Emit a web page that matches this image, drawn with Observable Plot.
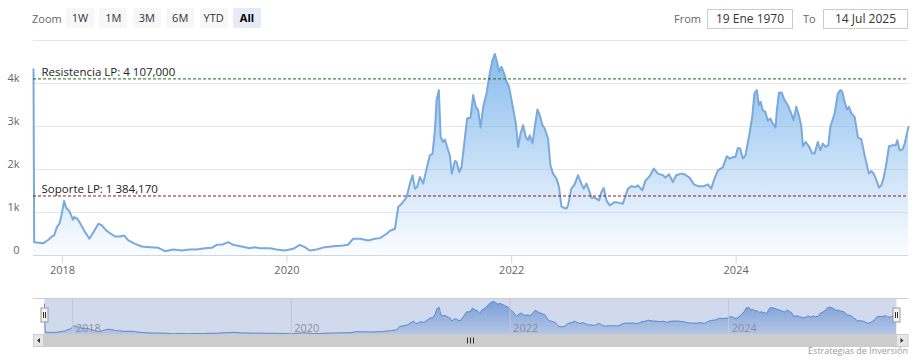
<!DOCTYPE html>
<html>
<head>
<meta charset="utf-8">
<script src="https://cdn.jsdelivr.net/npm/d3@7"></script>
<script src="https://cdn.jsdelivr.net/npm/@observablehq/plot@0.6"></script>
<style>
  body { margin: 0; background: #fff; font-family: "Open Sans", sans-serif; }
  #wrap { position: relative; width: 918px; height: 363px; overflow: hidden; }
  .abs { position: absolute; }
  .zl { left: 32px; top: 9px; font-size: 11px; color: #666; line-height: 20px; }
  .btn { top: 8px; width: 28px; height: 20px; line-height: 20px; text-align: center; font-size: 11px; color: #333; background: #f7f7f7; border-radius: 2px; }
  .btn.sel { background: #e6ebf5; font-weight: bold; color: #000; }
  .lbl { top: 8px; font-size: 11px; color: #666; line-height: 21px; }
  .inp { top: 9px; height: 18px; border: 1px solid #cccccc; font-size: 12px; color: #333; text-align: center; line-height: 18px; box-sizing: content-box; }
  .credit { right: 10px; top: 344px; font-size: 9px; color: #999; }
  #main, #nav { position: absolute; left: 0; }
  #main { top: 32px; }
  #nav { top: 290px; }
</style>
</head>
<body>
<div id="wrap">
  <div id="header"></div>
  <div id="main"></div>
  <div id="nav"></div>
  <div id="scroll"></div>
  <div class="abs credit" id="credit"></div>
</div>
<script>
// ---- Data ----
const yearsDec = [
  2017.742, 2017.748, 2017.831, 2017.875, 2017.906, 2017.926, 2017.950, 2017.973, 2017.988,
  2018.015, 2018.033, 2018.062, 2018.093, 2018.104, 2018.133, 2018.157, 2018.202, 2018.240, 2018.276, 2018.320, 2018.351, 2018.389, 2018.431, 2018.469, 2018.513, 2018.549, 2018.587, 2018.647, 2018.706, 2018.780, 2018.854, 2018.914, 2018.988,
  2019.062, 2019.136, 2019.196, 2019.270, 2019.329, 2019.374, 2019.427, 2019.477, 2019.521, 2019.596, 2019.670, 2019.714, 2019.759, 2019.848, 2019.907, 2019.981,
  2020.055, 2020.115, 2020.159, 2020.204, 2020.263, 2020.337, 2020.411, 2020.500, 2020.545, 2020.589, 2020.649, 2020.722, 2020.782, 2020.827, 2020.886, 2020.916, 2020.960, 2020.989,
  2021.020, 2021.064, 2021.093, 2021.117, 2021.138, 2021.158, 2021.182, 2021.212, 2021.242, 2021.271, 2021.295, 2021.316, 2021.331, 2021.351, 2021.367, 2021.390, 2021.405, 2021.434, 2021.449, 2021.467, 2021.494, 2021.509, 2021.532, 2021.553, 2021.574, 2021.603, 2021.634, 2021.657, 2021.681, 2021.701, 2021.723, 2021.746, 2021.776, 2021.805, 2021.829, 2021.850, 2021.865, 2021.888, 2021.909, 2021.932, 2021.954, 2021.977,
  2022.007, 2022.037, 2022.057, 2022.079, 2022.102, 2022.126, 2022.146, 2022.161, 2022.185, 2022.206, 2022.230, 2022.250, 2022.274, 2022.294, 2022.324, 2022.345, 2022.368, 2022.399, 2022.422, 2022.443, 2022.464, 2022.488, 2022.502, 2022.532, 2022.561, 2022.591, 2022.621, 2022.641, 2022.666, 2022.695, 2022.710, 2022.740, 2022.778, 2022.800, 2022.820, 2022.844, 2022.873, 2022.918, 2022.962, 2022.991,
  2023.036, 2023.066, 2023.104, 2023.125, 2023.164, 2023.193, 2023.229, 2023.267, 2023.303, 2023.347, 2023.371, 2023.401, 2023.436, 2023.466, 2023.511, 2023.540, 2023.585, 2023.623, 2023.667, 2023.709, 2023.747, 2023.778, 2023.807, 2023.837, 2023.881, 2023.917, 2023.941, 2023.977, 2023.994,
  2024.015, 2024.036, 2024.059, 2024.083, 2024.119, 2024.143, 2024.163, 2024.184, 2024.202, 2024.217, 2024.237, 2024.259, 2024.281, 2024.303, 2024.326, 2024.350, 2024.362, 2024.380, 2024.404, 2024.430, 2024.459, 2024.490, 2024.510, 2024.534, 2024.557, 2024.578, 2024.593, 2024.617, 2024.646, 2024.677, 2024.697, 2024.726, 2024.748, 2024.771, 2024.795, 2024.819, 2024.837, 2024.875, 2024.904, 2024.926, 2024.943, 2024.964, 2024.985,
  2025.002, 2025.024, 2025.053, 2025.083, 2025.113, 2025.142, 2025.180, 2025.202, 2025.222, 2025.246, 2025.270, 2025.291, 2025.312, 2025.336, 2025.359, 2025.390, 2025.419, 2025.434, 2025.454, 2025.478, 2025.499, 2025.533
];
const prices = [
  4330, 310, 287, 366, 443, 466, 660, 739, 893,
  1266, 1112, 1033, 832, 893, 855, 753, 543, 389, 543, 739, 699, 583, 506, 443, 443, 466, 350, 272, 210, 194, 179, 100, 140,
  117, 140, 140, 171, 179, 249, 256, 310, 249, 210, 171, 194, 171, 171, 140, 117,
  155, 249, 194, 117, 140, 194, 217, 233, 256, 389, 389, 350, 389, 404, 506, 575, 622, 1126,
  1205, 1359, 1671, 1865, 1555, 1592, 1825, 1671, 2021, 2331, 2371, 2914, 3613, 3846, 2758, 2641, 2696, 2448, 2331, 1904, 2198, 2175, 1942, 2058, 2524, 3186, 3210, 3730, 3457, 3380, 2976, 3457, 3769, 4236, 4546, 4685, 4546, 4273, 4390, 4236, 4040, 3923,
  3497, 3070, 2524, 2837, 3031, 2758, 2681, 2797, 2604, 2991, 3396, 3264, 3031, 2953, 2720, 2098, 1904, 1788, 1592, 1140, 1110, 1089, 1166, 1555, 1655, 1865, 1671, 1555, 1671, 1476, 1345, 1345, 1282, 1476, 1569, 1282, 1166, 1243, 1219, 1205,
  1555, 1608, 1592, 1632, 1515, 1748, 1841, 2021, 1904, 1865, 1811, 1888, 1709, 1865, 1904, 1888, 1811, 1655, 1608, 1608, 1655, 1555, 1788, 1981, 2051, 2308, 2254, 2291, 2291,
  2501, 2487, 2254, 2331, 2837, 3224, 3769, 3846, 3497, 3574, 3380, 3341, 3131, 3186, 3070, 2976, 3380, 3784, 3792, 3613, 3497, 3303, 3147, 3457, 3264, 3031, 2541, 2641, 2541, 2371, 2371, 2641, 2448, 2604, 2524, 2564, 2991, 3303, 3769, 3846, 3807, 3574, 3396,
  3457, 3303, 3224, 2743, 2704, 2331, 1904, 1965, 1904, 1764, 1578, 1632, 1811, 2137, 2541, 2564, 2564, 2681, 2448, 2464, 2604, 2991
];
const yGridTicks = [0, 1000, 2000, 3000, 4000, 5000];
const yLabelTicks = [0, 1000, 2000, 3000, 4000];
const xTickYears = [2018, 2020, 2022, 2024];
const plotLineValues = [4107, 1384.17];
const plotLineLabels = ["Resistencia LP: 4 107,000", "Soporte LP: 1 384,170"];
const plotLineColors = ["#1e6b1e", "#8b1a2a"];
const zoomButtons = ["1W", "1M", "3M", "6M", "YTD", "All"];
const selectedButton = "All";
const fromText = "19 Ene 1970";
const toText = "14 Jul 2025";
const creditText = "Estrategias de Inversión";

// ---- Build ----
function decToDate(y) {
  const yr = Math.floor(y);
  const a = Date.UTC(yr, 0, 1), b = Date.UTC(yr + 1, 0, 1);
  return new Date(a + (y - yr) * (b - a));
}
const data = yearsDec.map((y, i) => ({date: decToDate(y), value: prices[i]}));
const xDomain = d3.extent(data, d => d.date);
const xTicks = xTickYears.map(y => new Date(Date.UTC(y, 0, 1)));
const plotLines = plotLineValues.map((v, i) => ({v, label: plotLineLabels[i], color: plotLineColors[i]}));

const baseStyle = {fontFamily: "'Open Sans', sans-serif", fontSize: "11px", color: "#666", background: "transparent", overflow: "visible"};

const main = Plot.plot({
  width: 918, height: 258,
  marginTop: 8, marginBottom: 35, marginLeft: 33, marginRight: 10,
  style: baseStyle,
  x: {type: "utc", domain: xDomain},
  y: {domain: [0, 5000]},
  marks: [
    Plot.gridY(yGridTicks, {stroke: "#e6e6e6", strokeOpacity: 1}),
    Plot.areaY(data, {x: "date", y: "value", fill: "url(#areaGrad)"}),
    Plot.lineY(data, {x: "date", y: "value", stroke: "#7aaadc", strokeWidth: 2, strokeLinejoin: "round"}),
    Plot.ruleY([0], {stroke: "#ccd6eb"}),
    Plot.axisX(xTicks, {tickSize: 8, tickPadding: 3, stroke: "#ccd6eb", fill: "#666", tickFormat: "%Y"}),
    Plot.axisY(yLabelTicks, {tickSize: 0, tickPadding: 14, dy: -5, fill: "#666", tickFormat: d => d === 0 ? "0" : (d / 1000) + "k"}),
    Plot.ruleY(plotLines, {y: "v", stroke: "color", strokeDasharray: "3,2", strokeWidth: 1}),
    Plot.text(plotLines, {y: "v", text: "label", frameAnchor: "left", textAnchor: "start", lineAnchor: "bottom", dx: 8, dy: -3, fill: "#222", fontSize: 11.5})
  ]
});
{
  const svg = d3.select(main);
  const defs = svg.insert("defs", ":first-child");
  const g = defs.append("linearGradient").attr("id", "areaGrad").attr("x1", 0).attr("y1", 0).attr("x2", 0).attr("y2", 1);
  g.append("stop").attr("offset", "0%").attr("stop-color", "#7cb5ec").attr("stop-opacity", 0.9);
  g.append("stop").attr("offset", "100%").attr("stop-color", "#7cb5ec").attr("stop-opacity", 0.03);
}
document.getElementById("main").appendChild(main);

const nav = Plot.plot({
  width: 918, height: 44,
  marginTop: 8, marginBottom: 0, marginLeft: 44, marginRight: 22,
  style: baseStyle,
  x: {type: "utc", domain: xDomain, axis: null},
  y: {domain: [0, 5100], axis: null},
  marks: [
    Plot.areaY(data, {x: "date", y: "value", fill: "url(#navGrad)"}),
    Plot.lineY(data, {x: "date", y: "value", stroke: "#5b8fd6", strokeWidth: 1}),
    Plot.ruleX(xTicks, {stroke: "#e6e6e6"}),
    Plot.frame({fill: "rgba(102,133,194,0.3)", stroke: null}),
    Plot.text(xTicks, {x: d => d, text: d => String(d.getUTCFullYear()), frameAnchor: "bottom", textAnchor: "start", lineAnchor: "bottom", dx: 3, dy: -3, fill: "#8a8f99"})
  ]
});
{
  const svg = d3.select(nav);
  const defs = svg.insert("defs", ":first-child");
  const g = defs.append("linearGradient").attr("id", "navGrad").attr("x1", 0).attr("y1", 0).attr("x2", 0).attr("y2", 1);
  g.append("stop").attr("offset", "0%").attr("stop-color", "#5a8fd8").attr("stop-opacity", 0.75);
  g.append("stop").attr("offset", "100%").attr("stop-color", "#5a8fd8").attr("stop-opacity", 0.25);
  const xs = nav.scale("x").range;
  // outline
  svg.append("line").attr("x1", 33).attr("x2", 908).attr("y1", 8.5).attr("y2", 8.5).attr("stroke", "#cccccc");
  // handles
  for (const hx of xs) {
    const h = svg.append("g").attr("transform", `translate(${Math.round(hx) + 0.5},18)`);
    h.append("rect").attr("x", -3.5).attr("y", 0).attr("width", 7).attr("height", 14).attr("fill", "#f2f2f2").attr("stroke", "#999");
    h.append("line").attr("x1", -1).attr("x2", -1).attr("y1", 4).attr("y2", 10).attr("stroke", "#333");
    h.append("line").attr("x1", 1).attr("x2", 1).attr("y1", 4).attr("y2", 10).attr("stroke", "#333");
  }
}
document.getElementById("nav").appendChild(nav);

// scrollbar
{
  const xs = nav.scale("x").range;
  const sc = d3.select("#scroll");
  sc.append("div").attr("class", "abs").style("left", "33px").style("top", "334px").style("width", "875px").style("height", "13px").style("background", "#f2f2f2");
  sc.append("div").attr("class", "abs").style("left", xs[0] + "px").style("top", "334px").style("width", (xs[1] - xs[0]) + "px").style("height", "13px").style("background", "#cccccc");
  const bsvg = sc.append("svg").attr("class", "abs").style("left", "0px").style("top", "334px").attr("width", 918).attr("height", 13);
  bsvg.append("rect").attr("x", 33.5).attr("y", 0.5).attr("width", xs[0] - 34).attr("height", 12).attr("fill", "#e6e6e6").attr("stroke", "#cccccc");
  bsvg.append("rect").attr("x", xs[1] + 0.5).attr("y", 0.5).attr("width", 907.5 - xs[1]).attr("height", 12).attr("fill", "#e6e6e6").attr("stroke", "#cccccc");
  const lc = (33 + xs[0]) / 2, rc = (xs[1] + 908) / 2;
  bsvg.append("path").attr("d", `M${lc + 1.5},4 L${lc - 1.5},6.5 L${lc + 1.5},9 Z`).attr("fill", "#333");
  bsvg.append("path").attr("d", `M${rc - 1.5},4 L${rc + 1.5},6.5 L${rc - 1.5},9 Z`).attr("fill", "#333");
  const mc = Math.round((xs[0] + xs[1]) / 2) + 0.5;
  for (const o of [-3, 0, 3]) bsvg.append("line").attr("x1", mc + o).attr("x2", mc + o).attr("y1", 3.5).attr("y2", 9.5).attr("stroke", "#333");
}

// header controls
{
  const hd = d3.select("#header");
  hd.append("div").attr("class", "abs zl").text("Zoom");
  zoomButtons.forEach((b, i) => {
    hd.append("div").attr("class", "abs btn" + (b === selectedButton ? " sel" : "")).style("left", (66 + i * 33.4) + "px").text(b);
  });
  hd.append("div").attr("class", "abs lbl").style("left", "674px").text("From");
  hd.append("div").attr("class", "abs inp").style("left", "707px").style("width", "84px").text(fromText);
  hd.append("div").attr("class", "abs lbl").style("left", "803px").text("To");
  hd.append("div").attr("class", "abs inp").style("left", "823px").style("width", "83px").text(toText);
}
document.getElementById("credit").textContent = creditText;
</script>
</body>
</html>
